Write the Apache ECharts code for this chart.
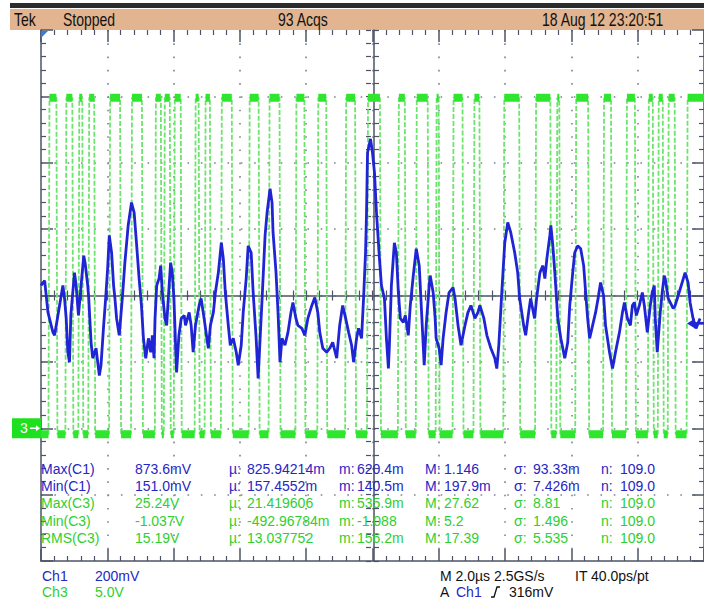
<!DOCTYPE html>
<html>
<head>
<meta charset="utf-8">
<title>Tek DPO capture</title>
<script src="https://cdn.jsdelivr.net/npm/echarts@6/dist/echarts.min.js"></script>
<style>
  html, body { margin: 0; padding: 0; background: #ffffff; }
  #scope { width: 704px; height: 600px; }
</style>
</head>
<body>
<div id="scope"></div>
<script>
// ---------- Channel 1 (200 mV/div): [time µs, mV] ----------
const ch1SweepA = [[-10.00,430],[-9.89,445],[-9.79,349],[-9.64,289],[-9.59,280],[-9.49,340],[-9.34,430],[-9.29,391],[-9.24,331],[-9.19,229],[-9.14,199],[-9.10,340],[-8.99,469],[-8.94,430],[-8.87,340],[-8.81,409],[-8.71,520],[-8.67,499],[-8.59,430],[-8.56,391],[-8.49,259],[-8.44,211],[-8.34,241],[-8.24,159],[-8.19,190],[-8.11,310],[-8.05,391],[-7.99,481],[-7.94,581],[-7.87,529],[-7.81,430],[-7.77,391],[-7.72,331],[-7.64,280],[-7.59,340],[-7.54,400],[-7.47,499],[-7.37,611],[-7.27,680],[-7.19,650],[-7.12,559],[-7.04,451],[-6.97,370],[-6.91,271],[-6.84,211],[-6.76,271],[-6.69,229],[-6.64,280],[-6.59,211],[-6.56,331],[-6.51,430],[-6.44,451],[-6.39,490],[-6.34,409],[-6.26,331],[-6.21,310],[-6.16,391],[-6.09,499],[-6.04,469],[-5.99,391],[-5.94,250],[-5.91,168],[-5.84,280],[-5.77,331],[-5.68,340],[-5.64,310],[-5.53,349],[-5.47,310],[-5.41,229],[-5.34,310],[-5.23,370],[-5.17,391],[-5.08,331],[-4.98,259]];
const ch1SweepB = [[-4.95,241],[-4.89,310],[-4.80,349],[-4.74,409],[-4.65,469],[-4.56,559],[-4.50,511],[-4.44,409],[-4.35,310],[-4.29,250],[-4.20,271],[-4.11,229],[-4.05,190],[-3.96,250],[-3.90,349],[-3.81,451],[-3.75,550],[-3.66,529],[-3.60,409],[-3.51,271],[-3.45,150],[-3.39,271],[-3.33,391],[-3.24,581],[-3.18,650],[-3.09,722],[-3.03,680],[-3.00,590],[-2.91,469],[-2.85,349],[-2.79,199],[-2.73,271],[-2.64,250],[-2.55,289],[-2.46,349],[-2.40,379],[-2.31,331],[-2.25,310],[-2.13,301],[-2.04,280],[-1.95,331],[-1.83,370],[-1.74,394],[-1.65,349],[-1.59,289],[-1.50,241],[-1.38,229],[-1.29,241],[-1.20,259],[-1.08,211],[-0.99,310],[-0.90,370],[-0.81,331],[-0.72,289],[-0.63,250],[-0.57,199],[-0.48,271],[-0.42,301],[-0.33,271],[-0.27,391],[-0.21,529],[-0.18,650],[-0.15,830],[-0.06,872],[0.00,830]];
const ch1SweepC = [[0.06,770],[0.12,650],[0.21,511],[0.27,430],[0.36,391],[0.42,271],[0.48,180],[0.51,250],[0.57,430],[0.66,559],[0.72,529],[0.78,409],[0.84,331],[0.93,319],[0.99,340],[1.08,280],[1.14,370],[1.23,460],[1.32,541],[1.41,490],[1.50,310],[1.56,190],[1.62,310],[1.71,430],[1.74,460],[1.83,409],[1.89,331],[1.92,271],[2.01,241],[2.07,190],[2.13,271],[2.22,349],[2.31,409],[2.43,424],[2.49,391],[2.58,310],[2.67,250],[2.79,310],[2.88,349],[2.97,370],[3.09,331],[3.18,349],[3.24,370],[3.36,331],[3.45,280],[3.57,241],[3.69,211],[3.75,180],[3.81,250],[3.90,409],[3.99,559],[4.08,620],[4.17,590],[4.29,529],[4.38,469],[4.44,391],[4.56,310],[4.62,280],[4.71,349],[4.77,391],[4.89,331],[4.95,391],[5.05,469],[5.14,490]];
const ch1SweepD = [[5.20,451],[5.26,511],[5.35,581],[5.38,611],[5.44,550],[5.50,469],[5.59,331],[5.68,271],[5.74,241],[5.80,211],[5.89,259],[5.95,370],[6.04,469],[6.10,529],[6.19,550],[6.28,541],[6.37,490],[6.43,409],[6.49,331],[6.55,271],[6.64,310],[6.73,349],[6.82,400],[6.88,439],[6.97,400],[7.03,310],[7.15,229],[7.24,180],[7.33,229],[7.45,289],[7.54,349],[7.60,379],[7.69,331],[7.78,310],[7.84,370],[7.90,379],[7.96,340],[8.05,370],[8.14,409],[8.20,370],[8.29,289],[8.38,370],[8.44,409],[8.50,430],[8.53,331],[8.59,229],[8.68,349],[8.74,409],[8.80,460],[8.83,451],[8.92,391],[8.98,379],[9.07,361],[9.13,370],[9.25,409],[9.34,439],[9.43,469],[9.52,439],[9.58,379],[9.67,331],[9.76,301],[9.88,331]];

// ---------- Channel 3 (5 V/div): logic edges in µs, starting low ----------
const ch3Edges = [-9.76,-9.52,-9.25,-9.04,-8.86,-8.74,-8.56,-8.38,-7.93,-7.60,-7.27,-6.94,-6.55,-6.37,-6.28,-6.10,-5.98,-5.77,-5.35,-5.23,-5.05,-4.89,-4.56,-4.23,-3.72,-3.42,-3.12,-2.79,-2.31,-2.04,-1.65,-1.38,-0.81,-0.51,-0.15,0.24,0.78,0.99,1.32,1.68,1.92,2.01,2.43,2.73,3.06,3.24,3.96,4.44,4.92,5.38,5.56,5.65,6.13,6.52,6.97,7.21,7.66,7.93,8.32,8.47,8.62,8.77,8.92,9.13,9.49];
const ch3Levels = [-0.45, 24.9];   // low, high (V)

// ---------- Screen text ----------
const headerTexts = ['Tek', 'Stopped', '93 Acqs', '18 Aug 12 23:20:51'];
const measNames   = ['Max(C1)', 'Min(C1)', 'Max(C3)', 'Min(C3)', 'RMS(C3)'];
const measSource  = ['C1', 'C1', 'C3', 'C3', 'C3'];
const measValues  = ['873.6mV', '151.0mV', '25.24V', '-1.037V', '15.19V'];
const measMean    = ['825.94214m', '157.4552m', '21.419606', '-492.96784m', '13.037752'];
const measMin     = ['620.4m', '140.5m', '535.9m', '-1.088', '156.2m'];
const measMax     = ['1.146', '197.9m', '27.62', '5.2', '17.39'];
const measSigma   = ['93.33m', '7.426m', '8.81', '1.496', '5.535'];
const measCount   = ['109.0', '109.0', '109.0', '109.0', '109.0'];
const channelScales = [['Ch1', '200mV'], ['Ch3', '5.0V']];
const timebase    = ['M 2.0µs 2.5GS/s', 'IT 40.0ps/pt'];
const trigger     = { source: 'Ch1', level: 316, label: '316mV' };

// ---------- Build traces ----------
const ch1Trace = ch1SweepA.concat(ch1SweepB, ch1SweepC, ch1SweepD);

const edgeHalf = 0.015;
const ch3Trace = [[-10, ch3Levels[0]]];
const ch3Plateaus = [];
{
  let state = 0;
  let start = -10;
  ch3Edges.forEach(function (t) {
    const next = 1 - state;
    ch3Plateaus.push([start, ch3Levels[state]], [t - edgeHalf, ch3Levels[state]], [t, '-']);
    ch3Trace.push([t - edgeHalf, ch3Levels[state]], [t + edgeHalf, ch3Levels[next]]);
    state = next;
    start = t + edgeHalf;
  });
  ch3Plateaus.push([start, ch3Levels[state]], [10, ch3Levels[state]]);
  ch3Trace.push([10, ch3Levels[state]]);
}

// ---------- Graticule styling ----------
const GRAT = '#4d5367';
const FONT = '"Liberation Sans", Arial, sans-serif';
const BLUE_TXT = '#2626c4';
const GREEN_TXT = '#2fcf2f';
const grid = { left: 41, top: 30, width: 666, height: 531 };

function frameAxis(extra) {
  return Object.assign({
    type: 'value',
    axisLine: { show: true, onZero: false, lineStyle: { color: GRAT, width: 1.5 } },
    axisTick: { show: true, inside: true, length: 12, lineStyle: { color: GRAT, width: 1.5 } },
    minorTick: { show: true, splitNumber: 5, length: 5, lineStyle: { color: GRAT, width: 1.2 } },
    axisLabel: { show: false },
    splitLine: { show: false },
    minorSplitLine: { show: false }
  }, extra);
}
const crossTick = {
  axisTick: { show: true, inside: true, length: 5, lineStyle: { color: GRAT, width: 1.2 } },
  minorTick: { show: true, splitNumber: 5, length: 5, lineStyle: { color: GRAT, width: 1.2 } }
};

const chart = echarts.init(document.getElementById('scope'), null, { renderer: 'svg' });

chart.setOption({
  animation: false,
  backgroundColor: '#ffffff',
  grid: [
    Object.assign({ containLabel: false }, grid),
    Object.assign({ containLabel: false }, grid)
  ],
  xAxis: [
    frameAxis({ gridIndex: 0, min: -10, max: 10, interval: 2, position: 'bottom',
      splitLine: { show: true, showMinLine: false, showMaxLine: false,
        lineStyle: { color: '#7d8290', width: 1.6, type: [1.6, 11.675] } } }),
    frameAxis({ gridIndex: 0, min: -10, max: 10, interval: 2, position: 'top',
      axisLine: { show: false, onZero: false } }),
    frameAxis(Object.assign({ gridIndex: 1, min: -10, max: 10, interval: 2, position: 'bottom', offset: -265.5 }, crossTick)),
    frameAxis(Object.assign({ gridIndex: 1, min: -10, max: 10, interval: 2, position: 'top', offset: -265.5,
      axisLine: { show: false, onZero: false } }, crossTick))
  ],
  yAxis: [
    frameAxis({ gridIndex: 0, min: -400, max: 1200, interval: 200, position: 'left',
      splitLine: { show: true, showMinLine: false, showMaxLine: false,
        lineStyle: { color: '#7d8290', width: 1.6, type: [1.6, 11.72] } } }),
    frameAxis({ gridIndex: 0, min: -10, max: 30, interval: 5, position: 'right' }),
    frameAxis(Object.assign({ gridIndex: 1, min: -400, max: 1200, interval: 200, position: 'left', offset: -333 }, crossTick)),
    frameAxis(Object.assign({ gridIndex: 1, min: -400, max: 1200, interval: 200, position: 'right', offset: -333,
      axisLine: { show: false, onZero: false } }, crossTick))
  ],
  series: [
    {
      name: 'Ch3 edges', type: 'line', xAxisIndex: 0, yAxisIndex: 1,
      data: ch3Trace, showSymbol: false, silent: true, z: 2,
      lineStyle: { color: '#6de46d', width: 1.8, type: [5, 2] }
    },
    {
      name: 'Ch3 levels', type: 'line', xAxisIndex: 0, yAxisIndex: 1,
      data: ch3Plateaus, showSymbol: false, silent: true, connectNulls: false, z: 2,
      lineStyle: { color: '#2fe62f', width: 8 }
    },
    {
      name: 'Ch1', type: 'line', xAxisIndex: 0, yAxisIndex: 0,
      data: ch1Trace, showSymbol: false, silent: true, z: 3,
      lineStyle: { color: '#1f24d4', width: 2.8, join: 'bevel' }
    }
  ]
});

// ---------- Screen furniture and readouts ----------
function txt(text, x, y, fill, extra) {
  return Object.assign({
    type: 'text', x: x, y: y, silent: true, z: 10,
    style: { text: text, x: 0, y: 0, fill: fill, font: '14px ' + FONT, align: 'left', verticalAlign: 'middle' }
  }, extra || {});
}

const g = [];
// status bar
g.push({ type: 'rect', shape: { x: 10, y: 3, width: 694, height: 5 }, style: { fill: '#2c2c2c' }, silent: true });
g.push({ type: 'rect', shape: { x: 10, y: 9, width: 694, height: 21 }, style: { fill: '#e2b48f' }, silent: true });
const headerX = [14, 63, 278, 542];
headerTexts.forEach(function (t, i) {
  g.push(txt(t, headerX[i], 20, '#111111', { scaleY: 1.25 }));
});

// trigger position marker
g.push({ type: 'polygon', shape: { points: [[41, 31], [48, 31], [41, 38]] }, style: { fill: '#3a7bd9' }, silent: true, z: 10 });

// channel 3 ground marker
const gnd3 = chart.convertToPixel({ yAxisIndex: 1 }, 0);
g.push({ type: 'rect', shape: { x: 12, y: gnd3 - 10, width: 29, height: 20 }, style: { fill: '#1fe01f' }, silent: true, z: 10 });
g.push(txt('3', 20, gnd3, '#ffffff'));
g.push({ type: 'line', shape: { x1: 30, y1: gnd3, x2: 37, y2: gnd3 }, style: { stroke: '#ffffff', lineWidth: 1.5 }, silent: true, z: 11 });
g.push({ type: 'polygon', shape: { points: [[40, gnd3], [36, gnd3 - 3], [36, gnd3 + 3]] }, style: { fill: '#ffffff' }, silent: true, z: 11 });

// trigger level marker
const trigY = chart.convertToPixel({ yAxisIndex: 0 }, trigger.level);
g.push({ type: 'line', shape: { x1: 693, y1: trigY, x2: 704, y2: trigY }, style: { stroke: '#1f24d4', lineWidth: 2.5 }, silent: true, z: 11 });
g.push({ type: 'polygon', shape: { points: [[687, trigY], [695, trigY - 5], [695, trigY + 5]] }, style: { fill: '#1f24d4' }, silent: true, z: 11 });

// measurement table
const rowY0 = 469, rowStep = 17.2;
measNames.forEach(function (name, i) {
  const y = rowY0 + rowStep * i;
  const c = measSource[i] === 'C1' ? BLUE_TXT : GREEN_TXT;
  g.push(txt(name, 41, y, c));
  g.push(txt(measValues[i], 135, y, c));
  g.push(txt('µ:', 229, y, c));  g.push(txt(measMean[i], 247, y, c));
  g.push(txt('m:', 339, y, c));  g.push(txt(measMin[i], 357, y, c));
  g.push(txt('M:', 425, y, c));  g.push(txt(measMax[i], 444, y, c));
  g.push(txt('σ:', 514, y, c));  g.push(txt(measSigma[i], 533, y, c));
  g.push(txt('n:', 601, y, c));  g.push(txt(measCount[i], 620, y, c));
});

// channel scales and timebase
channelScales.forEach(function (cs, i) {
  const c = i === 0 ? BLUE_TXT : GREEN_TXT;
  g.push(txt(cs[0], 42, 576 + 16 * i, c));
  g.push(txt(cs[1], 95, 576 + 16 * i, c));
});
g.push(txt(timebase[0], 440, 576, '#111111'));
g.push(txt(timebase[1], 575, 576, '#111111'));
g.push(txt('A', 440, 592, '#111111'));
g.push(txt(trigger.source, 456, 592, BLUE_TXT));
g.push({ type: 'polyline', shape: { points: [[491, 597], [494, 597], [497, 587], [500, 587]] }, style: { stroke: '#111111', lineWidth: 1.3, fill: null }, silent: true, z: 10 });
g.push(txt(trigger.label, 509, 592, '#111111'));

chart.setOption({ graphic: g });
</script>
</body>
</html>
